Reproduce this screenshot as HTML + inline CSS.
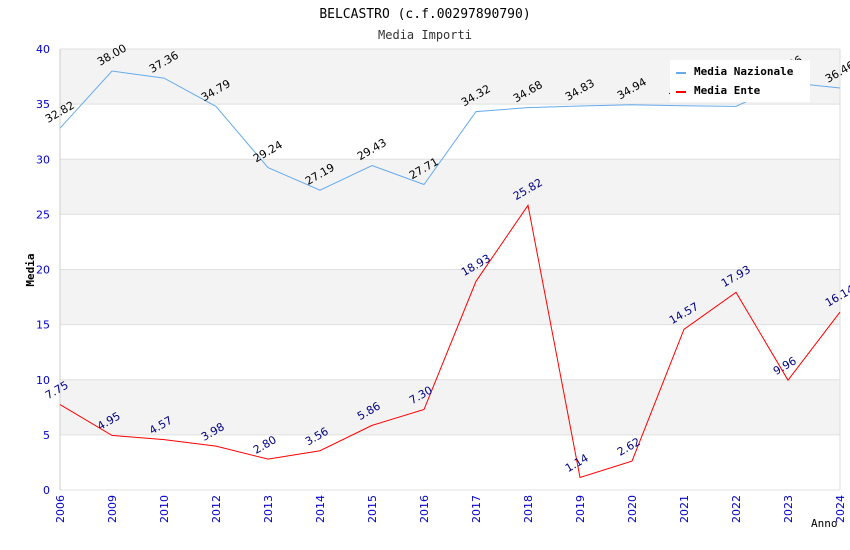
<!DOCTYPE html>
<html><head><meta charset="utf-8"><style>
body{margin:0;background:#fff}
svg{display:block;font-family:"DejaVu Sans Mono","Liberation Mono",monospace}
.sans{font-family:"DejaVu Sans","Liberation Sans",sans-serif}
</style></head><body>
<svg id="chart" width="850" height="550">
<text x="425" y="18" text-anchor="middle" font-size="13" fill="#000">BELCASTRO (c.f.00297890790)</text>
<text x="425" y="39" text-anchor="middle" font-size="12" fill="#333">Media Importi</text>
<g id="bands"></g><g id="grid"></g><g id="axes"></g><g id="series"></g><g id="labels"></g>
<text x="34" y="270" transform="rotate(-90 34 270)" text-anchor="middle" font-size="11" font-weight="bold" fill="#000">Media</text>
<text x="811" y="527" font-size="11" fill="#000">Anno</text>
<g>
<rect x="670" y="60" width="140" height="42" fill="#fff"/>
<line x1="676" y1="73" x2="686" y2="73" stroke="#66aaee" stroke-width="2"/>
<text x="694" y="75" font-size="11" font-weight="bold">Media Nazionale</text>
<line x1="676" y1="92" x2="686" y2="92" stroke="red" stroke-width="2"/>
<text x="694" y="94" font-size="11" font-weight="bold">Media Ente</text>
</g>
</svg>
<script>
const years=["2006","2009","2010","2012","2013","2014","2015","2016","2017","2018","2019","2020","2021","2022","2023","2024"];
const nazionale=[32.82,38.00,37.36,34.79,29.24,27.19,29.43,27.71,34.32,34.68,34.83,34.94,34.85,34.80,36.96,36.46];
const ente=[7.75,4.95,4.57,3.98,2.80,3.56,5.86,7.30,18.93,25.82,1.14,2.62,14.57,17.93,9.96,16.14];
const yTicks=[0,5,10,15,20,25,30,35,40];
const NS="http://www.w3.org/2000/svg";
const L=60,R=840,T=49,B=490,yMax=40;
const xs=i=>L+i*(R-L)/(years.length-1);
const ys=v=>B-v*(B-T)/yMax;
function mk(tag,attrs,parent){const e=document.createElementNS(NS,tag);for(const k in attrs)e.setAttribute(k,attrs[k]);document.getElementById(parent).appendChild(e);return e;}
for(let i=0;i<yTicks.length-1;i++){
  if(i%2===1){const r=mk('rect',{x:L,y:ys(yTicks[i+1]),width:R-L,height:ys(yTicks[i])-ys(yTicks[i+1]),fill:'#f3f3f3'},'bands');
  
  }
}
yTicks.forEach(t=>{
  const g=mk('line',{x1:L,x2:R,y1:ys(t),y2:ys(t),stroke:'#e0e0e0'},'grid');
  
  
  const tx=mk('text',{x:L-10,y:ys(t)+4,'text-anchor':'end','font-size':11,fill:'#0000cc',class:'sans'},'axes');
  tx.textContent=t;
  
  
});
mk('line',{x1:L,x2:L,y1:T,y2:B,stroke:'#ccc'},'axes');
mk('line',{x1:R,x2:R,y1:T,y2:B,stroke:'#ddd'},'axes');
years.forEach((y,i)=>{
  const x=xs(i);
  const tx=mk('text',{x:x+4,y:B+5,'text-anchor':'end','font-size':11,fill:'#0000cc',class:'sans',transform:`rotate(-90 ${x+4} ${B+5})`},'axes');
  tx.textContent=y;
  
  
});
function series(vals,color,lab,name){
  const p=mk('polyline',{points:vals.map((v,i)=>xs(i)+','+ys(v)).join(' '),fill:'none',stroke:color,'stroke-width':1},'series');
  
  
  vals.forEach((v,i)=>{
    const x=xs(i)-12,y=ys(v)-5;
    const t=mk('text',{x:x,y:y,'font-size':11,fill:lab,class:'sans',transform:`rotate(-30 ${x} ${y})`},'labels');
    t.textContent=v.toFixed(2);
    
    
  });
}
series(nazionale,'#66aaee','#000','nazionale-line');
series(ente,'#ff0000','#000080','ente-line');
</script>
</body></html>
